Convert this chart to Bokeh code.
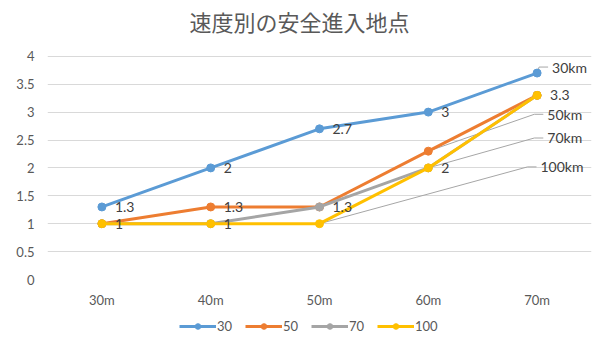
from bokeh.plotting import figure
from bokeh.layouts import column
from bokeh.models import Range1d, FixedTicker, Legend, LegendItem, Label
from bokeh.core.properties import value
from bokeh.embed import file_html
from bokeh.resources import INLINE

# --- data -------------------------------------------------------------
title_text = "速度別の安全進入地点"
distances = ["30m", "40m", "50m", "60m", "70m"]
series_names = ["30", "50", "70", "100"]
speed_30 = [1.3, 2.0, 2.7, 3.0, 3.7]
speed_50 = [1.0, 1.3, 1.3, 2.3, 3.3]
speed_70 = [1.0, 1.0, 1.3, 2.0, 3.3]
speed_100 = [1.0, 1.0, 1.0, 2.0, 3.3]
y_ticks = [0, 0.5, 1, 1.5, 2, 2.5, 3, 3.5, 4]

# which points carry a plain value label
value_label_shown = {
    "30": [True, True, True, True, False],
    "50": [True, True, False, False, True],
    "70": [False, True, True, False, False],
    "100": [False, False, False, True, False],
}
# point that carries the series-name label (with a leader line)
name_label_index = {"30": 4, "50": 3, "70": 3, "100": 2}

# --- styling ----------------------------------------------------------
colors = ["#5B9BD5", "#ED7D31", "#A5A5A5", "#FFC000"]
# pixel offset (right, up) of each series-name label from its point
name_label_offset = {"30": (15, 6), "50": (119, 37), "70": (119, 30), "100": (221, 57)}

W = 598
MAIN_H, LEG_H = 310, 35
LEFT, RIGHT, BOTTOM = 47, 7, 30
AXIS_TOP = 56            # pixel row of the top value gridline
frame_w = W - LEFT - RIGHT
frame_h = MAIN_H - BOTTOM  # frame reaches the top edge so the title sits inside it
x_lo, x_hi = -0.5, 4.5
y_lo, y_top = 0, 4
px_x = frame_w / (x_hi - x_lo)
px_y = (frame_h - AXIS_TOP) / (y_top - y_lo)
y_hi = y_top + AXIS_TOP / px_y

num_font = "Lato"
text_gray = "#595959"
label_gray = "#404040"

p = figure(width=W, height=MAIN_H, output_backend="svg", toolbar_location=None,
           x_range=Range1d(x_lo, x_hi), y_range=Range1d(y_lo, y_hi),
           min_border_left=LEFT, min_border_right=RIGHT,
           min_border_top=0, min_border_bottom=BOTTOM,
           background_fill_color="white", border_fill_color="white")
p.outline_line_color = None

# axes
p.xaxis.ticker = FixedTicker(ticks=list(range(len(distances))))
p.xaxis.major_label_overrides = {i: d for i, d in enumerate(distances)}
p.yaxis.ticker = FixedTicker(ticks=y_ticks)
p.yaxis.major_label_overrides = {t: f"{t:g}" for t in y_ticks}
for ax in (p.xaxis, p.yaxis):
    ax.axis_line_color = None
    ax.major_tick_line_color = None
    ax.minor_tick_line_color = None
    ax.major_tick_out = 0
    ax.major_tick_in = 0
    ax.major_label_text_font = num_font
    ax.major_label_text_font_size = "13px"
    ax.major_label_text_color = text_gray
p.xaxis.major_label_standoff = 12
p.yaxis.major_label_standoff = 13
p.xgrid.grid_line_color = None
p.ygrid.grid_line_color = "#D9D9D9"
p.ygrid.grid_line_width = 1

all_values = [speed_30, speed_50, speed_70, speed_100]
xs = list(range(len(distances)))

# leader lines from points to their series-name labels
lead_xs, lead_ys = [], []
for name, vals in zip(series_names, all_values):
    i = name_label_index[name]
    dx, dy = name_label_offset[name]
    lx = i + (dx - 4) / px_x
    ex = i + (dx - 13) / px_x
    ly = vals[i] + dy / px_y
    lead_xs.append([i, ex, lx])
    lead_ys.append([vals[i], ly, ly])
p.multi_line(lead_xs, lead_ys, line_color="#A6A6A6", line_width=1)

# series lines and markers
for name, vals, c in zip(series_names, all_values, colors):
    p.line(xs, vals, line_color=c, line_width=3)
    p.scatter(xs, vals, marker="circle", size=8, fill_color=c, line_color=c)

# value labels
for name, vals in zip(series_names, all_values):
    shown = value_label_shown[name]
    lx = [x for x, s in zip(xs, shown) if s]
    ly = [v for v, s in zip(vals, shown) if s]
    lt = [f"{v:g}" for v, s in zip(vals, shown) if s]
    p.text(lx, ly, text=lt, x_offset=13, text_align="left", text_baseline="middle",
           text_font=value(num_font), text_font_size="14px", text_color=label_gray)

# series-name labels
for name, vals in zip(series_names, all_values):
    i = name_label_index[name]
    dx, dy = name_label_offset[name]
    p.text([i], [vals[i]], text=[f"{name}km"], x_offset=dx, y_offset=-dy,
           text_align="left", text_baseline="middle",
           text_font=value(num_font), text_font_size="14px", text_color=label_gray)

# chart title
p.add_layout(Label(x=W / 2 - LEFT, y=frame_h - 21, x_units="screen", y_units="screen",
                   text=title_text, text_align="center", text_baseline="middle",
                   text_font="Noto Sans CJK JP", text_font_size="22px", text_color=text_gray))

# legend strip underneath the chart; its key glyphs reuse each series' data,
# which lies outside this strip's ranges so only the legend keys show
leg_fig = figure(width=W, height=LEG_H, output_backend="svg", toolbar_location=None,
                 x_range=Range1d(100, 101), y_range=Range1d(100, 101),
                 x_axis_location=None, y_axis_location=None,
                 min_border_left=0, min_border_right=0, min_border_top=0, min_border_bottom=0,
                 background_fill_color="white", border_fill_color="white")
leg_fig.outline_line_color = None
leg_fig.xgrid.grid_line_color = None
leg_fig.ygrid.grid_line_color = None
legend_items = []
for name, vals, c in zip(series_names, all_values, colors):
    r_line = leg_fig.line(xs, vals, line_color=c, line_width=3)
    r_pts = leg_fig.scatter(xs, vals, marker="circle", size=8, fill_color=c, line_color=c)
    legend_items.append(LegendItem(label=name, renderers=[r_line, r_pts]))

legend = Legend(items=legend_items, orientation="horizontal", location=(132, 11),
                glyph_width=37, glyph_height=14, label_height=14, label_standoff=1,
                spacing=8, padding=0, margin=0, border_line_color=None,
                background_fill_alpha=0, label_text_font=num_font,
                label_text_font_size="13px", label_text_color=text_gray)
leg_fig.add_layout(legend)

page = column(p, leg_fig, spacing=0)
open("out.html", "w").write(file_html(page, INLINE))
